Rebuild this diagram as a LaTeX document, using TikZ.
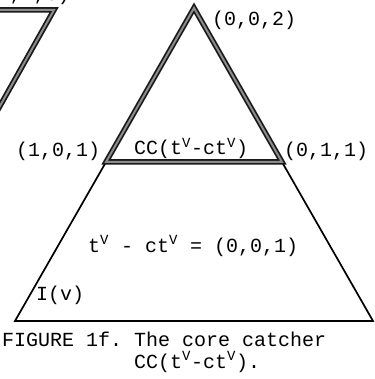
\documentclass[tikz,border=0pt]{standalone}
\usepackage{fontspec}
\setmonofont{Liberation Mono}
\usetikzlibrary{positioning, calc}
\tikzset{
	lbl/.style={
		font=\fontsize{20}{22}\selectfont\ttfamily,
		inner sep=0pt, text=black
	},
	thinedge/.style={
		line width=1.7pt, color=black, line join=miter
	},
	thickedge/.style={
		line width=5.5pt, color=black!90, line join=miter, miter limit=20
	},
	thickfill/.style={
		line width=2pt, color=black!45, line join=miter, miter limit=20
	}
}
\newcommand{\supv}{\textsuperscript{V}}

\begin{document}
\begin{tikzpicture}[x=1pt, y=-1pt]
		\clip (0,0) rectangle (374,379);
		
		%% ═══════════════════════════════
		%%  CORNERS
		%% ═══════════════════════════════
		\coordinate (apex) at (194,8);
		\coordinate (midl) at (106,162);
		\coordinate (midr) at (282,162);
		\coordinate (basel) at (15,321);
		\coordinate (baser) at (373,321);
		
		%% neighbour figure, cut off at the top left
		\coordinate (nbtop) at (-6,10);
		\coordinate (nbtip) at (54,10);
		\coordinate (nbend) at (-4,113);
		\draw[thickedge] (nbtop) -- (nbtip) -- (nbend);
		\draw[thickfill] (nbtop) -- (nbtip) -- (nbend);
		\node[lbl, anchor=base] (nblabel) at (28,1) {(1,1,0)};
		
		%% ═══════════════════════════════
		%%  LOWER PART — I(v)
		%% ═══════════════════════════════
		\draw[thinedge] (midl) -- (basel) -- (baser) -- (midr);
		
		%% ═══════════════════════════════
		%%  UPPER PART — core catcher
		%% ═══════════════════════════════
		\draw[thickedge] (midl) -- (apex) -- (midr) -- cycle;
		\draw[thickfill] (midl) -- (apex) -- (midr) -- cycle;
		
		%% ═══════════════════════════════
		%%  LABELS
		%% ═══════════════════════════════
		\node[lbl, anchor=base west] (ltop) at (212,26) {(0,0,2)};
		\node[lbl, anchor=base west] (lleft) at (16,157) {(1,0,1)};
		\node[lbl, anchor=base west] (lright) at (284,157) {(0,1,1)};
		\node[lbl, anchor=base west] (lcc) at (134,155) {CC(t\supv-ct\supv)};
		\node[lbl, anchor=base west] (ldiff) at (88,252) {t\supv{} - ct\supv{} = (0,0,1)};
		\node[lbl, anchor=base west] (liv) at (36,300) {I(v)};
		
		%% caption
		\node[lbl, anchor=base west] (cap1) at (2,346) {FIGURE 1f. The core catcher};
		\node[lbl, anchor=base west] (cap2) at (134,368) {CC(t\supv-ct\supv).};
		
	\end{tikzpicture}
\end{document}
